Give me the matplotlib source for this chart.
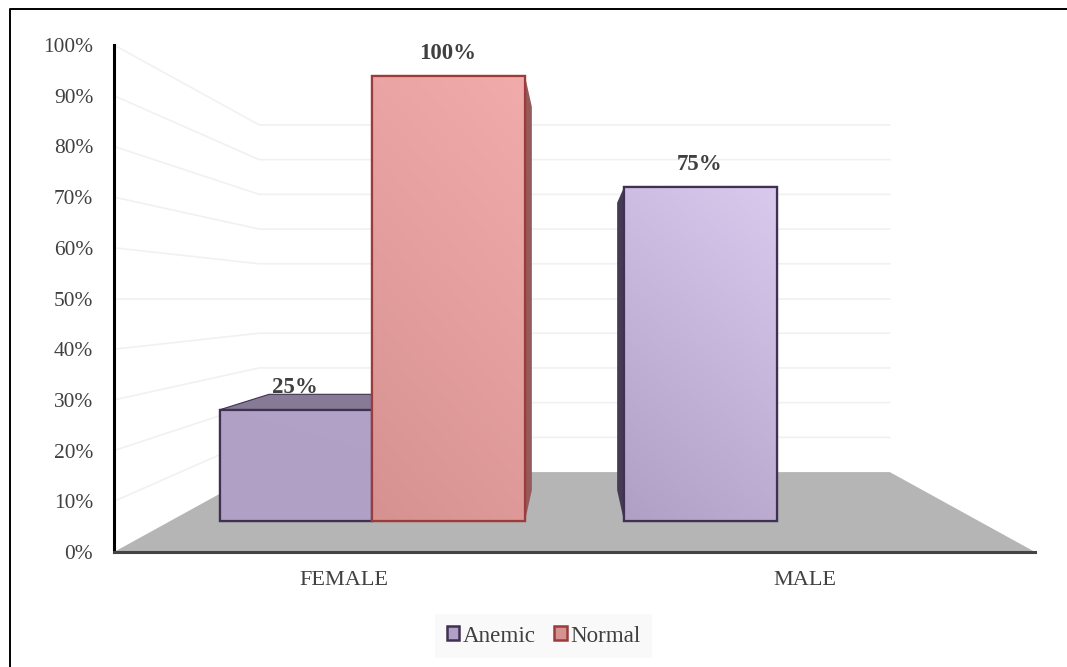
import numpy as np
import matplotlib.pyplot as plt
from matplotlib.colors import LinearSegmentedColormap
from matplotlib.lines import Line2D
from matplotlib.patches import Polygon

plt.rcParams['font.family'] = ['Liberation Serif', 'DejaVu Serif']

# Data
categories = ['FEMALE', 'MALE']
anemic = [25, 75]
normal = [100, 0]
y_ticks = list(range(0, 101, 10))

W, H = 1067, 667
bar_width = 0.3775

# Depth of the fake 3D box: everything shrinks towards the middle of the chart
depth_front = -0.139
depth_bar = 0.139
depth_back = 0.22
x_mid, y_mid = 0.5, 50


def px(x, d=0):
    return x_mid + (x - x_mid) * (1 - d)


def py(v, d=0):
    return y_mid + (v - y_mid) * (1 - d)


fig = plt.figure(figsize=(W / 100, H / 100), dpi=100, facecolor='white')
ax = fig.add_axes([114 / W, 1 - 552 / H, (1035 - 114) / W, (552 - 45) / H])
ax.set_xlim(px(-0.5, depth_front), px(1.5, depth_front))
ax.set_ylim(py(0, depth_front), py(100, depth_front))

# Walls
grid_color = '#f1f1f1'
for v in y_ticks[1:]:
    ax.plot([px(-0.5, depth_front), px(-0.5, depth_back), px(1.5, depth_back)],
            [py(v, depth_front), py(v, depth_back), py(v, depth_back)],
            color=grid_color, lw=1.2, zorder=1)

# Floor
floor = Polygon([(px(-0.5, depth_front), py(0, depth_front)),
                 (px(1.5, depth_front), py(0, depth_front)),
                 (px(1.5, depth_back), py(0, depth_back)),
                 (px(-0.5, depth_back), py(0, depth_back))],
                facecolor='#b5b5b5', edgecolor='none', zorder=1.5)
ax.add_patch(floor)

series = [
    dict(name='Anemic', values=anemic, offset=-bar_width / 2, face='#b1a0c6', light='#d9c9ed',
         edge='#3f3151', side='#453a54', top='#877a97', z=3),
    dict(name='Normal', values=normal, offset=bar_width / 2, face='#d69291', light='#f1abaa',
         edge='#9b3c3a', side='#955b5b', top='#a06a6a', z=5),
]

positions = np.arange(len(categories))
handles = []
for s in series:
    x = positions + s['offset']
    vals = np.array(s['values'])
    shown = vals > 0
    bars = ax.bar(x[shown], vals[shown], bar_width, facecolor=s['face'], edgecolor=s['edge'],
                  linewidth=1.6, zorder=s['z'] + 0.1)
    handles.append(Polygon([(0, 0)], facecolor=s['face'], edgecolor=s['edge'], linewidth=1.8, label=s['name']))
    cmap = LinearSegmentedColormap.from_list('g', [s['face'], s['light']])

    for bar, xc, val in zip(bars, x[shown], vals[shown]):
        left, right = xc - bar_width / 2, xc + bar_width / 2

        # gradient goes towards the top right, tall bars get all of it
        strength = min(1, val / 75) ** 3
        yy, xx = np.mgrid[1:0:60j, 0:1:30j]
        ramp = (0.72 * yy + 0.28 * xx) * strength
        img = ax.imshow(ramp, extent=(left, right, 0, val), cmap=cmap, vmin=0, vmax=1,
                        aspect='auto', interpolation='bilinear', zorder=s['z'] + 0.2)
        img.set_clip_path(bar)
        ax.bar(xc, val, bar_width, fill=False, edgecolor=s['edge'], linewidth=1.6, zorder=s['z'] + 0.3)

        # side faces
        side_x = None
        if right < x_mid:
            side_x = right
        elif left > x_mid:
            side_x = left
        if side_x is not None:
            ax.add_patch(Polygon([(side_x, 0), (px(side_x, depth_bar), py(0, depth_bar)),
                                  (px(side_x, depth_bar), py(val, depth_bar)), (side_x, val)],
                                 facecolor=s['side'], edgecolor='none', zorder=s['z']))
        # top face only shows below eye level
        if val < y_mid:
            ax.add_patch(Polygon([(left, val), (px(left, depth_bar), py(val, depth_bar)),
                                  (px(right, depth_bar), py(val, depth_bar)), (right, val)],
                                 facecolor=s['top'], edgecolor=s['edge'], linewidth=0.8, zorder=s['z']))

        ax.annotate(f'{val}%', (xc, val), xytext=(-0.5, 16), textcoords='offset points',
                    ha='center', va='center', fontsize=16.5, fontweight='bold', color='#404040', zorder=2.5)

ax.set_xlim(px(-0.5, depth_front), px(1.5, depth_front))
ax.set_ylim(py(0, depth_front), py(100, depth_front))

# Axes
ax.set_facecolor('none')
ax.set_xticks([px(p, depth_front) for p in positions])
ax.set_xticklabels(categories)
ax.set_yticks([py(v, depth_front) for v in y_ticks])
ax.set_yticklabels([f'{v}%' for v in y_ticks])
ax.tick_params(axis='y', length=0, pad=15, labelsize=15.4, labelcolor='#404040')
ax.tick_params(axis='x', length=0, pad=13.5, labelsize=16, labelcolor='#404040')
for side in ['top', 'right']:
    ax.spines[side].set_visible(False)
ax.spines['left'].set_linewidth(2.2)
ax.spines['left'].set_color('black')
ax.spines['bottom'].set_linewidth(2.2)
ax.spines['bottom'].set_color('#444444')
for spine in ax.spines.values():
    spine.set_zorder(8)

# Legend
leg = fig.legend(handles=handles, loc='center', bbox_to_anchor=(543.5 / W, 1 - 636 / H), ncol=2,
                 fontsize=16.6, frameon=True, fancybox=False, facecolor='#f9f9f9', edgecolor='none', framealpha=1,
                 handlelength=0.55, handleheight=0.55, handletextpad=0.15, columnspacing=0.8,
                 borderpad=0.5, borderaxespad=0)
for t in leg.get_texts():
    t.set_color('#404040')

# Frame round the picture (only left and top are inside the crop)
fig.add_artist(Line2D([9.5 / W, 9.5 / W, 1], [0, 1 - 8.5 / H, 1 - 8.5 / H], color='black', lw=1.4,
                      transform=fig.transFigure))

fig.savefig('out.png', dpi=100)
